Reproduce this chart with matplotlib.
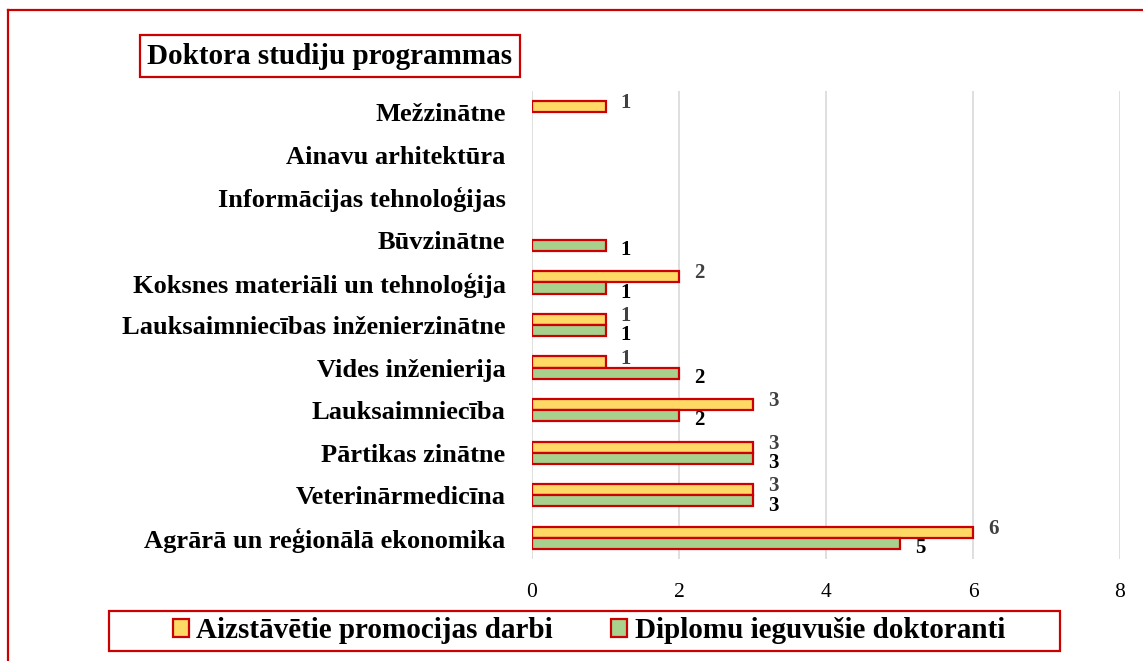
import numpy as np
import matplotlib
matplotlib.use("Agg")
import matplotlib.pyplot as plt
from matplotlib.patches import Rectangle, Patch
from matplotlib.lines import Line2D

plt.rcParams['font.family'] = ['Liberation Serif', 'DejaVu Serif']

categories = ["Agrārā un reģionālā ekonomika", "Veterinārmedicīna", "Pārtikas zinātne",
              "Lauksaimniecība", "Vides inženierija", "Lauksaimniecības inženierzinātne",
              "Koksnes materiāli un tehnoloģija", "Būvzinātne", "Informācijas tehnoloģijas",
              "Ainavu arhitektūra", "Mežzinātne"]
defended = [6, 3, 3, 3, 1, 1, 2, np.nan, np.nan, np.nan, 1]
diplomas = [5, 3, 3, 2, 2, 1, 1, 1, np.nan, np.nan, np.nan]
series_names = ["Aizstāvētie promocijas darbi", "Diplomu ieguvušie doktoranti"]
xticks = [0, 2, 4, 6, 8]
title = "Doktora studiju programmas"

YELLOW = "#FFD966"
GREEN = "#A9D18E"
RED = "#CC0000"

W, H = 1143, 661
fig = plt.figure(figsize=(W / 100, H / 100), dpi=100)
ax = fig.add_axes([532 / W, 1 - 559 / H, 588 / W, 468 / H])

y = np.arange(len(categories))
bh = 0.26
ax.barh(y + bh / 2, defended, height=bh, color=YELLOW, edgecolor=RED, linewidth=1.6, zorder=3)
ax.barh(y - bh / 2, diplomas, height=bh, color=GREEN, edgecolor=RED, linewidth=1.6, zorder=3)

for yi, v in zip(y, defended):
    if not np.isnan(v):
        ax.annotate(f"{v:g}", (v, yi + bh / 2), xytext=(11, 2.5), textcoords="offset points",
                    ha="left", va="center", fontsize=15, fontweight="bold", color="#404040")
for yi, v in zip(y, diplomas):
    if not np.isnan(v):
        ax.annotate(f"{v:g}", (v, yi - bh / 2), xytext=(11, -3.5), textcoords="offset points",
                    ha="left", va="center", fontsize=15, fontweight="bold", color="black")

ax.set_xlim(0, 8)
ax.set_ylim(-0.5, len(categories) - 0.5)
ax.set_xticks(xticks)
ax.set_xticklabels([str(t) for t in xticks], fontsize=15.5)
ax.set_yticks(y)
ax.set_yticklabels(categories, fontsize=19, fontweight="bold")
ax.tick_params(axis="x", length=0, pad=17)
ax.tick_params(axis="y", length=0, pad=19)
ax.grid(axis="x", color="#D9D9D9", linewidth=1.2, zorder=0)
for s in ax.spines.values():
    s.set_visible(False)

# Title box
fig.text(330 / W, 1 - 56 / H, title, ha="center", va="center", fontsize=21, fontweight="bold",
         bbox=dict(boxstyle="square,pad=0.25", facecolor="white", edgecolor=RED, linewidth=1.6))

# Legend
handles = [Patch(facecolor=YELLOW, edgecolor=RED, linewidth=1.6),
           Patch(facecolor=GREEN, edgecolor=RED, linewidth=1.6)]
fig.legend(handles, series_names, loc="center", bbox_to_anchor=(589 / W, 1 - 631 / H), ncol=2,
           frameon=False, prop=dict(size=21, weight="bold"), handlelength=0.55, handleheight=0.55,
           handletextpad=0.25, columnspacing=2.0, borderpad=0)
fig.patches.append(Rectangle((109 / W, 1 - 651 / H), (1060 - 109) / W, 40 / H, transform=fig.transFigure,
                             fill=False, edgecolor=RED, linewidth=1.6))

# Outer border (left and top edges)
fig.add_artist(Line2D([8 / W, 8 / W], [-0.01, 1 - 10 / H], transform=fig.transFigure, color=RED, linewidth=1.6))
fig.add_artist(Line2D([8 / W, 1.01], [1 - 10 / H, 1 - 10 / H], transform=fig.transFigure, color=RED, linewidth=1.6))

fig.savefig("out.png", dpi=100, facecolor="white")
